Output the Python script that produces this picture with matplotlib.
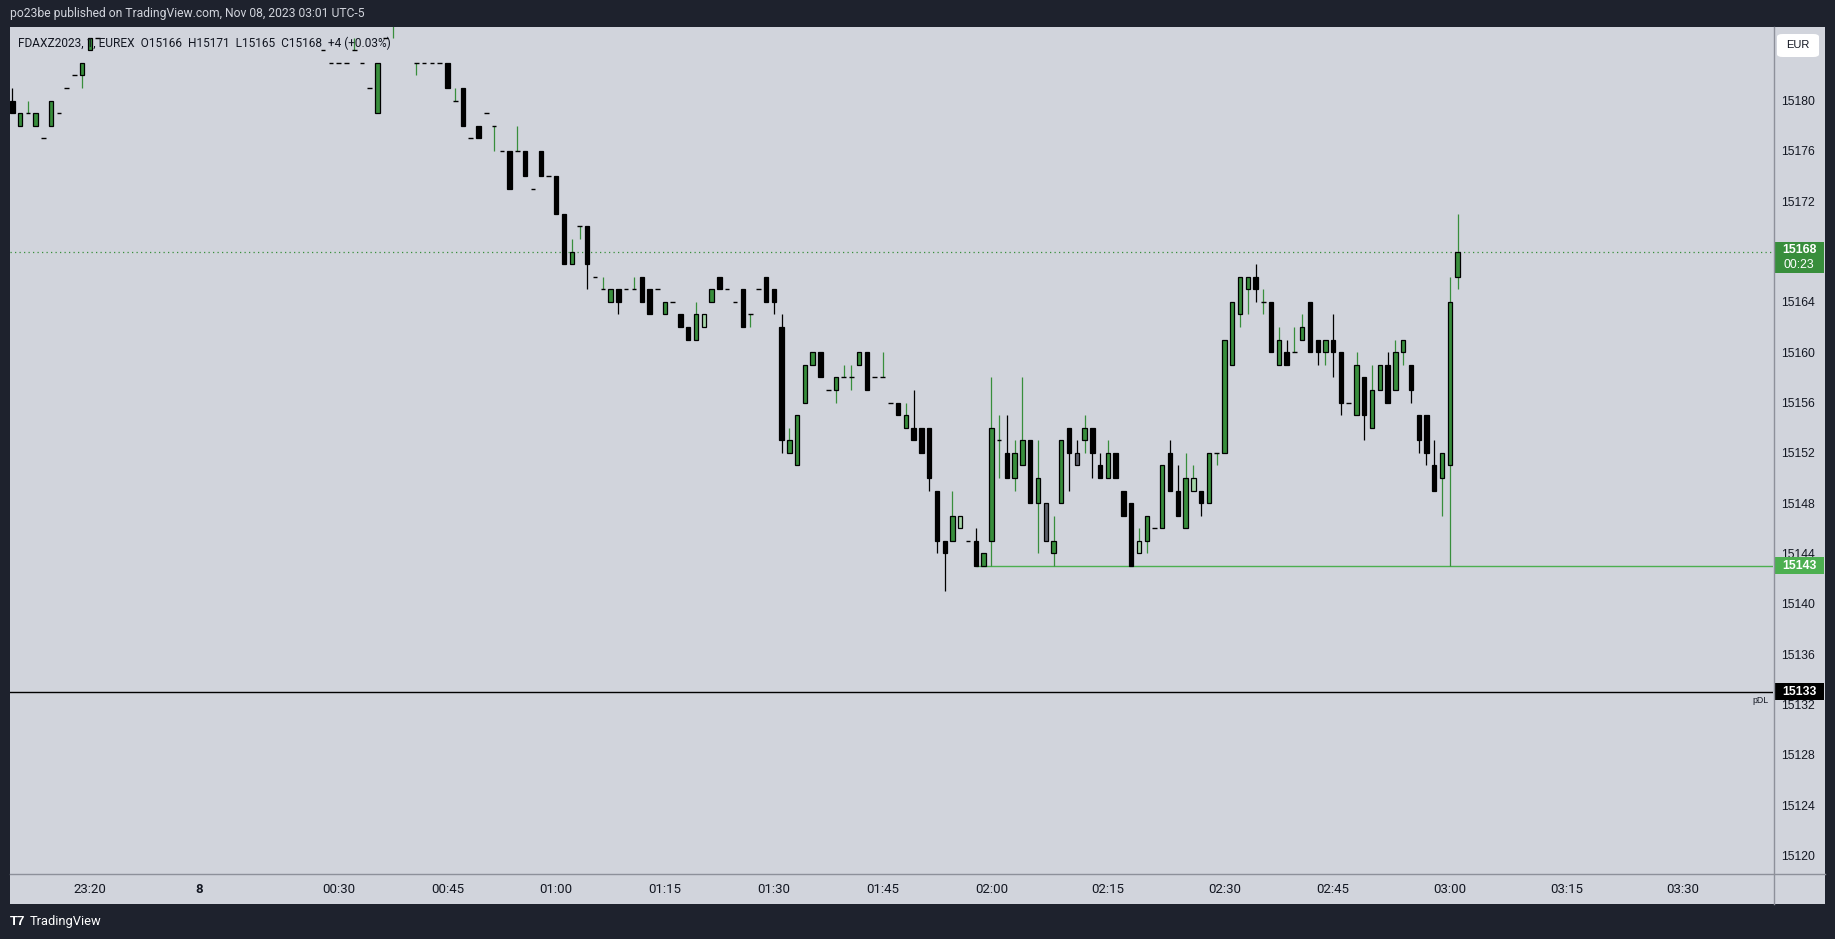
import numpy as np
import matplotlib
matplotlib.use("Agg")
from matplotlib import pyplot as plt
from matplotlib import font_manager, transforms
from matplotlib.patches import Rectangle, FancyBboxPatch
from matplotlib.lines import Line2D

W, H = 1835, 939

# FDAX Z2023, 1 minute bars (index 0 .. 186), integer prices
# bars 12-39 and 50-51 sit above the visible price range
opens = [15180, 15178, 15179, 15178, 15177, 15178, 15179, 15181, 15182, 15182,
         15184, 15185, 15186, 15187, 15188, 15187, 15188, 15189, 15188, 15189,
         15190, 15189, 15190, 15191, 15190, 15191, 15192, 15191, 15190, 15189,
         15190, 15191, 15189, 15188, 15189, 15188, 15187, 15188, 15187, 15186,
         15184, 15183, 15183, 15183, 15184, 15183, 15181, 15179, 15185, 15187,
         15188, 15187, 15183, 15183, 15183, 15183, 15183, 15180, 15181, 15177,
         15178, 15179, 15178, 15176, 15176, 15176, 15176, 15173, 15176, 15174,
         15174, 15171, 15167, 15170, 15170, 15166, 15165, 15164, 15165, 15165,
         15165, 15166, 15165, 15165, 15163, 15164, 15163, 15162, 15161, 15162,
         15164, 15166, 15165, 15164, 15165, 15163, 15165, 15166, 15165, 15162,
         15152, 15151, 15156, 15159, 15160, 15157, 15157, 15158, 15158, 15159,
         15160, 15158, 15158, 15156, 15156, 15154, 15154, 15154, 15154, 15149,
         15145, 15145, 15146, 15145, 15145, 15143, 15145, 15153, 15152, 15150,
         15151, 15153, 15148, 15148, 15144, 15148, 15154, 15152, 15153, 15154,
         15151, 15150, 15152, 15149, 15148, 15144, 15145, 15146, 15146, 15152,
         15149, 15146, 15149, 15149, 15148, 15152, 15152, 15159, 15163, 15165,
         15166, 15164, 15164, 15159, 15160, 15160, 15161, 15164, 15161, 15160,
         15161, 15160, 15156, 15155, 15158, 15154, 15157, 15159, 15157, 15160,
         15159, 15155, 15155, 15151, 15150, 15151, 15166]
highs = [15181, 15179, 15180, 15179, 15177, 15180, 15179, 15181, 15182, 15183,
         15185, 15185, 15187, 15188, 15189, 15188, 15190, 15190, 15189, 15191,
         15190, 15190, 15192, 15192, 15191, 15193, 15192, 15191, 15191, 15190,
         15191, 15191, 15190, 15189, 15189, 15188, 15188, 15188, 15187, 15187,
         15184, 15183, 15183, 15183, 15185, 15183, 15181, 15183, 15185, 15189,
         15189, 15187, 15183, 15183, 15183, 15183, 15183, 15181, 15181, 15177,
         15178, 15179, 15178, 15176, 15176, 15178, 15176, 15173, 15176, 15174,
         15174, 15171, 15169, 15170, 15170, 15166, 15166, 15165, 15165, 15165,
         15166, 15166, 15165, 15165, 15164, 15164, 15163, 15162, 15164, 15163,
         15165, 15166, 15165, 15164, 15165, 15163, 15165, 15166, 15165, 15163,
         15154, 15155, 15159, 15160, 15160, 15157, 15158, 15159, 15159, 15160,
         15160, 15158, 15160, 15156, 15156, 15156, 15157, 15154, 15154, 15149,
         15145, 15149, 15147, 15145, 15146, 15144, 15158, 15155, 15155, 15153,
         15158, 15153, 15153, 15148, 15147, 15153, 15154, 15153, 15155, 15154,
         15152, 15153, 15152, 15149, 15148, 15146, 15147, 15146, 15151, 15153,
         15151, 15152, 15151, 15149, 15152, 15152, 15161, 15164, 15166, 15166,
         15167, 15165, 15164, 15162, 15161, 15162, 15163, 15164, 15161, 15161,
         15163, 15160, 15156, 15160, 15158, 15159, 15159, 15160, 15161, 15161,
         15159, 15155, 15155, 15153, 15152, 15166, 15171]
lows = [15179, 15178, 15179, 15178, 15177, 15178, 15179, 15181, 15182, 15181,
        15184, 15185, 15186, 15187, 15187, 15186, 15188, 15188, 15188, 15189,
        15189, 15189, 15190, 15190, 15189, 15191, 15190, 15189, 15189, 15188,
        15190, 15189, 15188, 15187, 15188, 15187, 15187, 15187, 15186, 15186,
        15184, 15183, 15183, 15183, 15184, 15183, 15181, 15179, 15185, 15185,
        15187, 15186, 15182, 15183, 15183, 15183, 15181, 15180, 15178, 15177,
        15177, 15179, 15176, 15176, 15173, 15176, 15174, 15173, 15174, 15174,
        15171, 15167, 15167, 15169, 15165, 15166, 15165, 15164, 15163, 15165,
        15165, 15164, 15163, 15165, 15163, 15164, 15162, 15161, 15161, 15162,
        15164, 15165, 15165, 15164, 15162, 15162, 15165, 15164, 15163, 15152,
        15152, 15151, 15156, 15159, 15158, 15157, 15156, 15158, 15157, 15159,
        15157, 15158, 15158, 15156, 15155, 15154, 15153, 15152, 15149, 15144,
        15141, 15145, 15146, 15145, 15143, 15143, 15143, 15150, 15150, 15149,
        15151, 15148, 15144, 15145, 15143, 15148, 15149, 15151, 15152, 15150,
        15150, 15150, 15150, 15147, 15143, 15144, 15144, 15146, 15146, 15149,
        15147, 15146, 15149, 15147, 15148, 15151, 15152, 15159, 15162, 15163,
        15164, 15163, 15160, 15159, 15159, 15160, 15161, 15160, 15159, 15159,
        15158, 15155, 15156, 15155, 15153, 15154, 15157, 15156, 15157, 15159,
        15156, 15152, 15151, 15149, 15147, 15143, 15165]
closes = [15179, 15179, 15179, 15179, 15177, 15180, 15179, 15181, 15182, 15183,
          15185, 15185, 15187, 15188, 15187, 15188, 15189, 15188, 15189, 15190,
          15189, 15190, 15191, 15190, 15191, 15192, 15191, 15190, 15189, 15190,
          15191, 15189, 15188, 15189, 15188, 15187, 15188, 15187, 15186, 15186,
          15184, 15183, 15183, 15183, 15184, 15183, 15181, 15183, 15185, 15188,
          15187, 15186, 15183, 15183, 15183, 15183, 15181, 15180, 15178, 15177,
          15177, 15179, 15178, 15176, 15173, 15176, 15174, 15173, 15174, 15174,
          15171, 15167, 15168, 15170, 15167, 15166, 15165, 15165, 15164, 15165,
          15165, 15164, 15163, 15165, 15164, 15164, 15162, 15161, 15163, 15163,
          15165, 15165, 15165, 15164, 15162, 15163, 15165, 15164, 15164, 15153,
          15153, 15155, 15159, 15160, 15158, 15157, 15158, 15158, 15158, 15160,
          15157, 15158, 15158, 15156, 15155, 15155, 15153, 15152, 15150, 15145,
          15144, 15147, 15147, 15145, 15143, 15144, 15154, 15153, 15150, 15152,
          15153, 15148, 15150, 15145, 15145, 15153, 15152, 15151, 15154, 15152,
          15150, 15152, 15150, 15147, 15143, 15145, 15147, 15146, 15151, 15149,
          15147, 15150, 15150, 15148, 15152, 15152, 15161, 15164, 15166, 15166,
          15165, 15164, 15160, 15161, 15159, 15160, 15162, 15160, 15160, 15161,
          15160, 15156, 15156, 15159, 15155, 15157, 15159, 15156, 15160, 15161,
          15157, 15153, 15152, 15149, 15152, 15164, 15168]
light_bars = [89, 122, 145, 152]   # pale green bodies
grey_bars = [133, 137]             # grey bodies

tick_idx = [10, 24, 42, 56, 70, 84, 98, 112, 126, 141, 156, 170, 185, 200, 215]
tick_labels = ["23:20", "8", "00:30", "00:45", "01:00", "01:15", "01:30", "01:45",
               "02:00", "02:15", "02:30", "02:45", "03:00", "03:15", "03:30"]
price_ticks = list(range(15120, 15181, 4))

support = 15143        # drawn from bar 124
support_start = 124
prev_day_low = 15133
countdown = "00:23"

DARK = "#1e222d"
LIGHT = "#d1d4dc"
GREEN = "#388e3c"
LINE_GREEN = "#4caf50"
PALE = "#a5d6a7"
GREY = "#5d606b"
TXT = "#131722"
SEP = "#8d909a"


def pick_font(*names):
    for name in names:
        try:
            font_manager.findfont(font_manager.FontProperties(family=name),
                                  fallback_to_default=False)
            return name
        except ValueError:
            pass
    return "DejaVu Sans"


NARROW = pick_font("Liberation Sans Narrow", "Roboto", "Liberation Sans")
SANS = pick_font("Liberation Sans", "Roboto", "DejaVu Sans")


def frect(x0, y0, x1, y1):
    # pixel box (top-left origin) -> figure fraction rect
    return [x0 / W, 1 - y1 / H, (x1 - x0) / W, (y1 - y0) / H]


fig = plt.figure(figsize=(W / 100, H / 100), dpi=100, facecolor=DARK)
fig.add_artist(Rectangle((10 / W, 1 - 904 / H), 1815 / W, 877 / H,
                         transform=fig.transFigure, facecolor=LIGHT,
                         edgecolor="none", zorder=0))

ax = fig.add_axes(frect(10, 27, 1773, 873))
ax.set_facecolor(LIGHT)
for s in ax.spines.values():
    s.set_visible(False)

o = np.array(opens)
h = np.array(highs)
l = np.array(lows)
c = np.array(closes)
x = np.arange(len(o))
up = c >= o
flat = o == c

body_col = np.where(up, GREEN, "black").astype(object)
for i in light_bars:
    body_col[i] = PALE
for i in grey_bars:
    body_col[i] = GREY
wick_col = list(np.where(up, GREEN, "black"))

ax.vlines(x, l, h, colors=wick_col, lw=0.9, zorder=2)
nf = ~flat
ax.bar(x[nf], (c - o)[nf], bottom=o[nf], width=0.56, color=list(body_col[nf]),
       edgecolor="black", linewidth=0.9, zorder=3)
ax.hlines(o[flat], x[flat] - 0.3, x[flat] + 0.3, colors="black", lw=1.0, zorder=3)

XMIN, XMAX = -0.3, 226.6
YMIN, YMAX = 15118.6, 15185.85

ax.axhline(closes[-1], color=GREEN, lw=0.9, ls=(0, (1, 2.6)), zorder=1)
ax.hlines(support, support_start, XMAX, color=LINE_GREEN, lw=1.0, zorder=1)
ax.axhline(prev_day_low, color="black", lw=1.0, zorder=1)

ax.set_xlim(XMIN, XMAX)
ax.set_ylim(YMIN, YMAX)

ax.set_xticks(tick_idx, tick_labels)
ax.tick_params(axis="x", length=0, pad=7.5, labelsize=9.5, labelcolor=TXT)
for t in ax.get_xticklabels():
    t.set_family(NARROW)
ax.get_xticklabels()[1].set_fontweight("bold")

ax.yaxis.tick_right()
ax.set_yticks(price_ticks)
ax.tick_params(axis="y", length=0, pad=5.6, labelsize=8.8, labelcolor=TXT)
for t in ax.get_yticklabels():
    t.set_family(SANS)

# price scale labels
tr = transforms.blended_transform_factory(ax.transAxes, ax.transData)
bx0 = 1 + 1 / 1763
bw = 50 / 1763
tx = bx0 + bw / 2
ax.add_patch(Rectangle((bx0, closes[-1] - 1.70), bw, 2.46, transform=tr,
                       facecolor=GREEN, edgecolor="none", clip_on=False, zorder=5))
ax.text(tx, closes[-1] + 0.12, str(closes[-1]), transform=tr, ha="center", va="center",
        color="white", fontsize=8.8, fontweight="bold", family=SANS, zorder=6)
ax.text(tx, closes[-1] - 1.07, countdown, transform=tr, ha="center", va="center",
        color="white", fontsize=8.8, family=SANS, zorder=6)

ax.add_patch(Rectangle((bx0, support - 0.62), bw, 1.35, transform=tr,
                       facecolor=LINE_GREEN, edgecolor="none", clip_on=False, zorder=5))
ax.text(tx, support, str(support), transform=tr, ha="center", va="center",
        color="white", fontsize=8.8, fontweight="bold", family=SANS, zorder=6)

ax.add_patch(Rectangle((bx0, prev_day_low - 0.65), bw, 1.35, transform=tr,
                       facecolor="black", edgecolor="none", clip_on=False, zorder=5))
ax.text(tx, prev_day_low, str(prev_day_low), transform=tr, ha="center", va="center",
        color="white", fontsize=8.8, fontweight="bold", family=SANS, zorder=6)
ax.text(1 - 4 / 1763, prev_day_low - 0.65, "pDL", transform=tr, ha="right", va="center",
        color=TXT, fontsize=6.3, family=SANS, zorder=6)

# separators of the price / time scales
fig.add_artist(Line2D([1773.5 / W, 1773.5 / W], [1 - 27 / H, 1 - 904 / H],
                      transform=fig.transFigure, color=SEP, lw=1.0))
fig.add_artist(Line2D([10 / W, 1825 / W], [1 - 873.5 / H, 1 - 873.5 / H],
                      transform=fig.transFigure, color=SEP, lw=1.0))

# currency button
fig.add_artist(FancyBboxPatch((1777 / W, 1 - 57 / H), 42 / W, 23 / H,
                              boxstyle="round,pad=0,rounding_size=0.003",
                              transform=fig.transFigure, facecolor="white",
                              edgecolor="none"))
fig.text(1798 / W, 1 - 45.5 / H, "EUR", ha="center", va="center", color=TXT,
         fontsize=8, family=SANS)

# header / legend / footer
fig.text(10 / W, 1 - 14 / H,
         "po23be published on TradingView.com, Nov 08, 2023 03:01 UTC-5",
         ha="left", va="center", color=LIGHT, fontsize=8.7, family=NARROW)
fig.text(18 / W, 1 - 43 / H,
         "FDAXZ2023, 1, EUREX  O15166  H15171  L15165  C15168  +4 (+0.03%)",
         ha="left", va="center", color=TXT, fontsize=8.6, family=NARROW, zorder=10)
fig.text(10 / W, 1 - 922 / H, "T7", ha="left", va="center", color="white",
         fontsize=9.5, fontweight="heavy", family=SANS)
fig.text(30 / W, 1 - 922 / H, "TradingView", ha="left", va="center", color="white",
         fontsize=9.3, family=NARROW)

fig.savefig("out.png", dpi=100, facecolor=DARK)
